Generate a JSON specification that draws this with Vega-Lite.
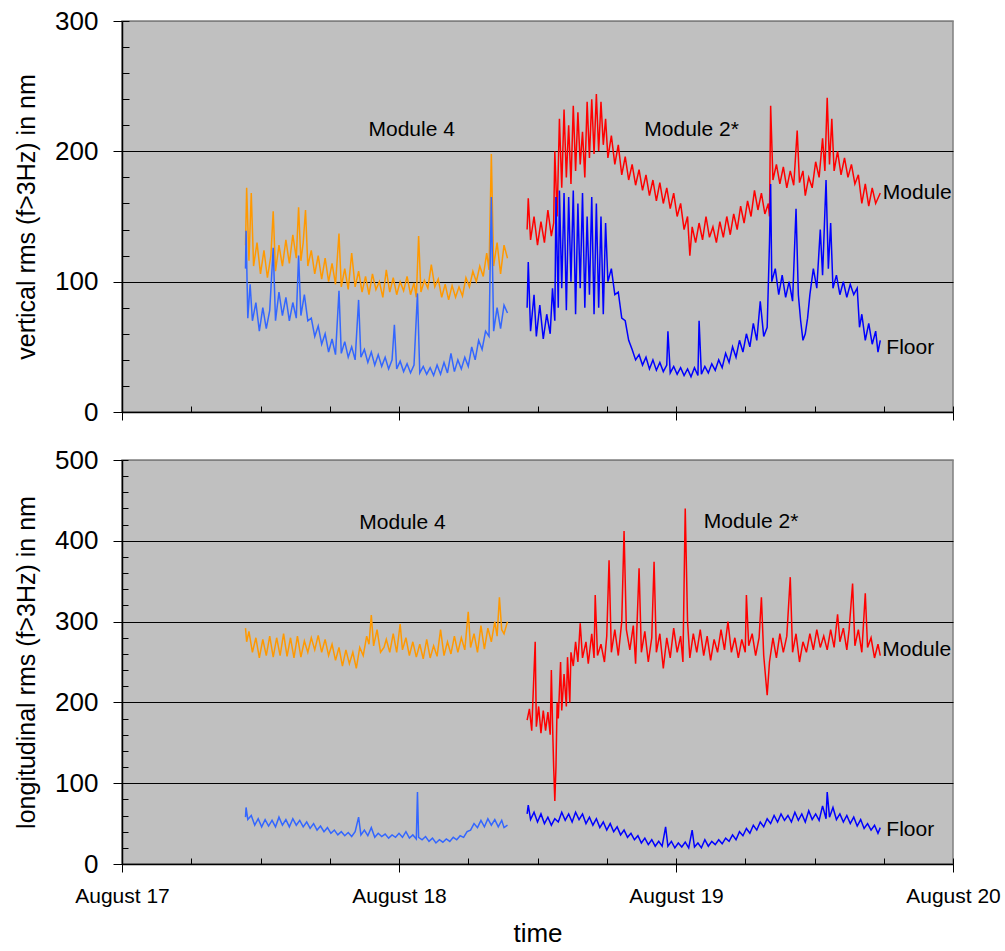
{
"$schema": "https://vega.github.io/schema/vega-lite/v6.json",
"padding": {"left": 13, "top": 7, "right": 10, "bottom": 0},
"background": "white",
"spacing": 20,
"config": {
  "font": "Liberation Sans",
  "view": {"fill": "#C0C0C0", "stroke": "#808080", "strokeWidth": 1.5},
  "axis": {"domainColor": "black", "tickColor": "black", "labelColor": "black", "titleColor": "black", "labelFont": "Liberation Sans", "titleFont": "Liberation Sans", "titleFontWeight": "normal", "gridColor": "black", "gridOpacity": 1, "gridWidth": 1}
},
"datasets": {
"vert": [
{"s":"a","h":10.7,"v":128},{"s":"a","h":10.8,"v":172},{"s":"a","h":11.0,"v":116},{"s":"a","h":11.2,"v":168},{"s":"a","h":11.4,"v":112},{"s":"a","h":11.7,"v":130},{"s":"a","h":12.0,"v":106},{"s":"a","h":12.3,"v":124},{"s":"a","h":12.6,"v":103},{"s":"a","h":12.9,"v":120},{"s":"a","h":13.1,"v":154},{"s":"a","h":13.3,"v":108},{"s":"a","h":13.6,"v":128},{"s":"a","h":13.9,"v":112},{"s":"a","h":14.2,"v":132},{"s":"a","h":14.5,"v":114},{"s":"a","h":14.8,"v":136},{"s":"a","h":15.1,"v":118},{"s":"a","h":15.3,"v":157},{"s":"a","h":15.5,"v":116},{"s":"a","h":15.7,"v":130},{"s":"a","h":15.9,"v":155},{"s":"a","h":16.1,"v":112},{"s":"a","h":16.4,"v":124},{"s":"a","h":16.7,"v":106},{"s":"a","h":17.0,"v":120},{"s":"a","h":17.3,"v":102},{"s":"a","h":17.6,"v":118},{"s":"a","h":17.9,"v":100},{"s":"a","h":18.2,"v":114},{"s":"a","h":18.5,"v":98},{"s":"a","h":18.8,"v":137},{"s":"a","h":19.0,"v":96},{"s":"a","h":19.3,"v":110},{"s":"a","h":19.6,"v":94},{"s":"a","h":19.9,"v":122},{"s":"a","h":20.2,"v":96},{"s":"a","h":20.5,"v":108},{"s":"a","h":20.8,"v":92},{"s":"a","h":21.1,"v":104},{"s":"a","h":21.4,"v":90},{"s":"a","h":21.7,"v":106},{"s":"a","h":22.0,"v":94},{"s":"a","h":22.3,"v":100},{"s":"a","h":22.6,"v":88},{"s":"a","h":22.9,"v":109},{"s":"a","h":23.2,"v":92},{"s":"a","h":23.5,"v":103},{"s":"a","h":23.8,"v":90},{"s":"a","h":24.1,"v":100},{"s":"a","h":24.4,"v":93},{"s":"a","h":24.7,"v":104},{"s":"a","h":25.0,"v":90},{"s":"a","h":25.3,"v":99},{"s":"a","h":25.5,"v":88},{"s":"a","h":25.7,"v":135},{"s":"a","h":25.9,"v":92},{"s":"a","h":26.2,"v":101},{"s":"a","h":26.5,"v":95},{"s":"a","h":26.8,"v":113},{"s":"a","h":27.1,"v":96},{"s":"a","h":27.4,"v":102},{"s":"a","h":27.7,"v":88},{"s":"a","h":28.0,"v":98},{"s":"a","h":28.3,"v":86},{"s":"a","h":28.6,"v":97},{"s":"a","h":28.9,"v":88},{"s":"a","h":29.2,"v":96},{"s":"a","h":29.5,"v":89},{"s":"a","h":29.8,"v":103},{"s":"a","h":30.1,"v":96},{"s":"a","h":30.4,"v":108},{"s":"a","h":30.7,"v":100},{"s":"a","h":31.0,"v":112},{"s":"a","h":31.3,"v":104},{"s":"a","h":31.6,"v":122},{"s":"a","h":31.8,"v":109},{"s":"a","h":32.0,"v":198},{"s":"a","h":32.2,"v":112},{"s":"a","h":32.5,"v":130},{"s":"a","h":32.8,"v":106},{"s":"a","h":33.1,"v":128},{"s":"a","h":33.4,"v":118},
{"s":"b","h":10.7,"v":110},{"s":"b","h":10.75,"v":139},{"s":"b","h":10.9,"v":72},{"s":"b","h":11.1,"v":98},{"s":"b","h":11.3,"v":70},{"s":"b","h":11.6,"v":84},{"s":"b","h":11.9,"v":62},{"s":"b","h":12.2,"v":80},{"s":"b","h":12.5,"v":64},{"s":"b","h":12.8,"v":78},{"s":"b","h":13.1,"v":126},{"s":"b","h":13.3,"v":70},{"s":"b","h":13.6,"v":92},{"s":"b","h":13.9,"v":74},{"s":"b","h":14.2,"v":88},{"s":"b","h":14.5,"v":70},{"s":"b","h":14.8,"v":84},{"s":"b","h":15.1,"v":72},{"s":"b","h":15.3,"v":120},{"s":"b","h":15.5,"v":74},{"s":"b","h":15.8,"v":90},{"s":"b","h":16.1,"v":70},{"s":"b","h":16.4,"v":72},{"s":"b","h":16.7,"v":58},{"s":"b","h":17.0,"v":66},{"s":"b","h":17.3,"v":52},{"s":"b","h":17.6,"v":60},{"s":"b","h":17.9,"v":46},{"s":"b","h":18.2,"v":56},{"s":"b","h":18.5,"v":44},{"s":"b","h":18.8,"v":93},{"s":"b","h":19.0,"v":45},{"s":"b","h":19.3,"v":54},{"s":"b","h":19.6,"v":42},{"s":"b","h":19.9,"v":50},{"s":"b","h":20.2,"v":40},{"s":"b","h":20.5,"v":86},{"s":"b","h":20.7,"v":42},{"s":"b","h":21.0,"v":48},{"s":"b","h":21.3,"v":38},{"s":"b","h":21.6,"v":46},{"s":"b","h":21.9,"v":36},{"s":"b","h":22.2,"v":44},{"s":"b","h":22.5,"v":35},{"s":"b","h":22.8,"v":42},{"s":"b","h":23.1,"v":33},{"s":"b","h":23.4,"v":40},{"s":"b","h":23.6,"v":67},{"s":"b","h":23.8,"v":33},{"s":"b","h":24.1,"v":39},{"s":"b","h":24.4,"v":31},{"s":"b","h":24.7,"v":37},{"s":"b","h":25.0,"v":30},{"s":"b","h":25.3,"v":36},{"s":"b","h":25.6,"v":91},{"s":"b","h":25.8,"v":30},{"s":"b","h":26.1,"v":35},{"s":"b","h":26.4,"v":29},{"s":"b","h":26.7,"v":34},{"s":"b","h":27.0,"v":28},{"s":"b","h":27.3,"v":36},{"s":"b","h":27.6,"v":29},{"s":"b","h":27.9,"v":38},{"s":"b","h":28.2,"v":30},{"s":"b","h":28.5,"v":45},{"s":"b","h":28.8,"v":31},{"s":"b","h":29.1,"v":40},{"s":"b","h":29.4,"v":33},{"s":"b","h":29.7,"v":42},{"s":"b","h":30.0,"v":35},{"s":"b","h":30.3,"v":50},{"s":"b","h":30.6,"v":40},{"s":"b","h":30.9,"v":55},{"s":"b","h":31.2,"v":48},{"s":"b","h":31.5,"v":62},{"s":"b","h":31.8,"v":58},{"s":"b","h":32.0,"v":165},{"s":"b","h":32.2,"v":62},{"s":"b","h":32.5,"v":80},{"s":"b","h":32.8,"v":64},{"s":"b","h":33.1,"v":82},{"s":"b","h":33.4,"v":76},
{"s":"c","h":35.1,"v":140},{"s":"c","h":35.2,"v":164},{"s":"c","h":35.4,"v":132},{"s":"c","h":35.7,"v":150},{"s":"c","h":36.0,"v":128},{"s":"c","h":36.3,"v":146},{"s":"c","h":36.6,"v":130},{"s":"c","h":36.9,"v":155},{"s":"c","h":37.2,"v":135},{"s":"c","h":37.4,"v":145},{"s":"c","h":37.5,"v":200},{"s":"c","h":37.7,"v":150},{"s":"c","h":37.9,"v":225},{"s":"c","h":38.1,"v":172},{"s":"c","h":38.3,"v":232},{"s":"c","h":38.5,"v":180},{"s":"c","h":38.7,"v":220},{"s":"c","h":38.9,"v":175},{"s":"c","h":39.1,"v":235},{"s":"c","h":39.3,"v":185},{"s":"c","h":39.5,"v":230},{"s":"c","h":39.7,"v":190},{"s":"c","h":39.9,"v":215},{"s":"c","h":40.1,"v":180},{"s":"c","h":40.3,"v":238},{"s":"c","h":40.5,"v":195},{"s":"c","h":40.7,"v":240},{"s":"c","h":40.9,"v":198},{"s":"c","h":41.1,"v":244},{"s":"c","h":41.3,"v":200},{"s":"c","h":41.5,"v":238},{"s":"c","h":41.7,"v":205},{"s":"c","h":41.9,"v":225},{"s":"c","h":42.1,"v":195},{"s":"c","h":42.4,"v":212},{"s":"c","h":42.7,"v":190},{"s":"c","h":43.0,"v":205},{"s":"c","h":43.3,"v":182},{"s":"c","h":43.6,"v":196},{"s":"c","h":43.9,"v":178},{"s":"c","h":44.2,"v":190},{"s":"c","h":44.5,"v":174},{"s":"c","h":44.8,"v":186},{"s":"c","h":45.1,"v":170},{"s":"c","h":45.4,"v":182},{"s":"c","h":45.7,"v":166},{"s":"c","h":46.0,"v":178},{"s":"c","h":46.3,"v":162},{"s":"c","h":46.6,"v":176},{"s":"c","h":46.9,"v":160},{"s":"c","h":47.2,"v":172},{"s":"c","h":47.5,"v":156},{"s":"c","h":47.8,"v":168},{"s":"c","h":48.1,"v":150},{"s":"c","h":48.4,"v":160},{"s":"c","h":48.7,"v":140},{"s":"c","h":49.0,"v":150},{"s":"c","h":49.2,"v":120},{"s":"c","h":49.4,"v":142},{"s":"c","h":49.7,"v":130},{"s":"c","h":50.0,"v":145},{"s":"c","h":50.3,"v":132},{"s":"c","h":50.6,"v":150},{"s":"c","h":50.9,"v":134},{"s":"c","h":51.2,"v":142},{"s":"c","h":51.5,"v":130},{"s":"c","h":51.8,"v":146},{"s":"c","h":52.1,"v":134},{"s":"c","h":52.4,"v":150},{"s":"c","h":52.7,"v":136},{"s":"c","h":53.0,"v":152},{"s":"c","h":53.3,"v":140},{"s":"c","h":53.6,"v":158},{"s":"c","h":53.9,"v":145},{"s":"c","h":54.2,"v":162},{"s":"c","h":54.5,"v":150},{"s":"c","h":54.8,"v":170},{"s":"c","h":55.1,"v":155},{"s":"c","h":55.4,"v":168},{"s":"c","h":55.7,"v":152},{"s":"c","h":56.0,"v":160},{"s":"c","h":56.1,"v":150},{"s":"c","h":56.2,"v":235},{"s":"c","h":56.4,"v":178},{"s":"c","h":56.7,"v":190},{"s":"c","h":57.0,"v":175},{"s":"c","h":57.3,"v":188},{"s":"c","h":57.6,"v":172},{"s":"c","h":57.9,"v":185},{"s":"c","h":58.2,"v":174},{"s":"c","h":58.5,"v":216},{"s":"c","h":58.7,"v":176},{"s":"c","h":59.0,"v":185},{"s":"c","h":59.2,"v":166},{"s":"c","h":59.5,"v":180},{"s":"c","h":59.8,"v":172},{"s":"c","h":60.1,"v":192},{"s":"c","h":60.4,"v":180},{"s":"c","h":60.7,"v":210},{"s":"c","h":60.9,"v":185},{"s":"c","h":61.1,"v":241},{"s":"c","h":61.3,"v":190},{"s":"c","h":61.5,"v":225},{"s":"c","h":61.7,"v":185},{"s":"c","h":62.0,"v":200},{"s":"c","h":62.3,"v":182},{"s":"c","h":62.6,"v":195},{"s":"c","h":62.9,"v":180},{"s":"c","h":63.2,"v":190},{"s":"c","h":63.5,"v":175},{"s":"c","h":63.8,"v":182},{"s":"c","h":64.1,"v":160},{"s":"c","h":64.4,"v":175},{"s":"c","h":64.7,"v":158},{"s":"c","h":65.0,"v":172},{"s":"c","h":65.3,"v":160},{"s":"c","h":65.7,"v":168},
{"s":"d","h":35.1,"v":80},{"s":"d","h":35.2,"v":115},{"s":"d","h":35.4,"v":62},{"s":"d","h":35.7,"v":90},{"s":"d","h":35.9,"v":58},{"s":"d","h":36.2,"v":82},{"s":"d","h":36.5,"v":56},{"s":"d","h":36.8,"v":75},{"s":"d","h":37.1,"v":60},{"s":"d","h":37.3,"v":95},{"s":"d","h":37.5,"v":70},{"s":"d","h":37.6,"v":165},{"s":"d","h":37.8,"v":80},{"s":"d","h":37.9,"v":170},{"s":"d","h":38.1,"v":95},{"s":"d","h":38.3,"v":168},{"s":"d","h":38.5,"v":78},{"s":"d","h":38.7,"v":165},{"s":"d","h":38.9,"v":100},{"s":"d","h":39.1,"v":170},{"s":"d","h":39.3,"v":75},{"s":"d","h":39.5,"v":160},{"s":"d","h":39.7,"v":95},{"s":"d","h":39.9,"v":168},{"s":"d","h":40.1,"v":80},{"s":"d","h":40.3,"v":150},{"s":"d","h":40.5,"v":90},{"s":"d","h":40.7,"v":165},{"s":"d","h":40.9,"v":75},{"s":"d","h":41.1,"v":160},{"s":"d","h":41.3,"v":80},{"s":"d","h":41.5,"v":150},{"s":"d","h":41.7,"v":75},{"s":"d","h":41.9,"v":145},{"s":"d","h":42.1,"v":100},{"s":"d","h":42.4,"v":110},{"s":"d","h":42.7,"v":90},{"s":"d","h":43.0,"v":92},{"s":"d","h":43.3,"v":72},{"s":"d","h":43.6,"v":70},{"s":"d","h":43.9,"v":55},{"s":"d","h":44.2,"v":48},{"s":"d","h":44.5,"v":40},{"s":"d","h":44.8,"v":44},{"s":"d","h":45.1,"v":36},{"s":"d","h":45.4,"v":42},{"s":"d","h":45.7,"v":33},{"s":"d","h":46.0,"v":40},{"s":"d","h":46.3,"v":32},{"s":"d","h":46.6,"v":38},{"s":"d","h":46.9,"v":31},{"s":"d","h":47.2,"v":36},{"s":"d","h":47.3,"v":62},{"s":"d","h":47.5,"v":30},{"s":"d","h":47.8,"v":35},{"s":"d","h":48.1,"v":29},{"s":"d","h":48.4,"v":34},{"s":"d","h":48.7,"v":28},{"s":"d","h":49.0,"v":33},{"s":"d","h":49.3,"v":27},{"s":"d","h":49.6,"v":34},{"s":"d","h":49.9,"v":28},{"s":"d","h":50.0,"v":70},{"s":"d","h":50.2,"v":29},{"s":"d","h":50.5,"v":35},{"s":"d","h":50.8,"v":30},{"s":"d","h":51.1,"v":37},{"s":"d","h":51.4,"v":32},{"s":"d","h":51.7,"v":40},{"s":"d","h":52.0,"v":34},{"s":"d","h":52.3,"v":45},{"s":"d","h":52.6,"v":38},{"s":"d","h":52.9,"v":50},{"s":"d","h":53.2,"v":42},{"s":"d","h":53.5,"v":55},{"s":"d","h":53.8,"v":46},{"s":"d","h":54.1,"v":60},{"s":"d","h":54.4,"v":50},{"s":"d","h":54.7,"v":68},{"s":"d","h":55.0,"v":55},{"s":"d","h":55.3,"v":85},{"s":"d","h":55.6,"v":58},{"s":"d","h":55.9,"v":65},{"s":"d","h":56.1,"v":130},{"s":"d","h":56.2,"v":175},{"s":"d","h":56.3,"v":100},{"s":"d","h":56.6,"v":110},{"s":"d","h":56.9,"v":90},{"s":"d","h":57.2,"v":105},{"s":"d","h":57.5,"v":88},{"s":"d","h":57.8,"v":100},{"s":"d","h":58.1,"v":85},{"s":"d","h":58.4,"v":156},{"s":"d","h":58.6,"v":90},{"s":"d","h":58.8,"v":70},{"s":"d","h":59.0,"v":55},{"s":"d","h":59.2,"v":60},{"s":"d","h":59.4,"v":72},{"s":"d","h":59.6,"v":90},{"s":"d","h":59.9,"v":110},{"s":"d","h":60.2,"v":95},{"s":"d","h":60.5,"v":140},{"s":"d","h":60.7,"v":105},{"s":"d","h":61.0,"v":178},{"s":"d","h":61.2,"v":110},{"s":"d","h":61.4,"v":145},{"s":"d","h":61.6,"v":95},{"s":"d","h":61.9,"v":105},{"s":"d","h":62.2,"v":90},{"s":"d","h":62.5,"v":100},{"s":"d","h":62.8,"v":88},{"s":"d","h":63.1,"v":98},{"s":"d","h":63.4,"v":90},{"s":"d","h":63.7,"v":95},{"s":"d","h":63.9,"v":65},{"s":"d","h":64.1,"v":75},{"s":"d","h":64.4,"v":55},{"s":"d","h":64.7,"v":68},{"s":"d","h":65.0,"v":52},{"s":"d","h":65.3,"v":62},{"s":"d","h":65.5,"v":46},{"s":"d","h":65.7,"v":55}
],
"long": [
{"s":"a","h":10.7,"v":292},{"s":"a","h":10.8,"v":275},{"s":"a","h":11.0,"v":288},{"s":"a","h":11.3,"v":262},{"s":"a","h":11.6,"v":280},{"s":"a","h":11.9,"v":255},{"s":"a","h":12.2,"v":278},{"s":"a","h":12.5,"v":258},{"s":"a","h":12.8,"v":282},{"s":"a","h":13.1,"v":256},{"s":"a","h":13.4,"v":280},{"s":"a","h":13.7,"v":258},{"s":"a","h":14.0,"v":285},{"s":"a","h":14.3,"v":257},{"s":"a","h":14.6,"v":280},{"s":"a","h":14.9,"v":255},{"s":"a","h":15.2,"v":282},{"s":"a","h":15.5,"v":256},{"s":"a","h":15.8,"v":276},{"s":"a","h":16.1,"v":262},{"s":"a","h":16.4,"v":280},{"s":"a","h":16.7,"v":265},{"s":"a","h":17.0,"v":283},{"s":"a","h":17.3,"v":262},{"s":"a","h":17.6,"v":278},{"s":"a","h":17.9,"v":258},{"s":"a","h":18.2,"v":272},{"s":"a","h":18.5,"v":252},{"s":"a","h":18.8,"v":268},{"s":"a","h":19.1,"v":245},{"s":"a","h":19.4,"v":265},{"s":"a","h":19.7,"v":248},{"s":"a","h":20.0,"v":262},{"s":"a","h":20.3,"v":242},{"s":"a","h":20.6,"v":268},{"s":"a","h":20.9,"v":258},{"s":"a","h":21.2,"v":282},{"s":"a","h":21.4,"v":272},{"s":"a","h":21.6,"v":308},{"s":"a","h":21.8,"v":270},{"s":"a","h":22.1,"v":290},{"s":"a","h":22.4,"v":262},{"s":"a","h":22.7,"v":268},{"s":"a","h":22.9,"v":278},{"s":"a","h":23.2,"v":262},{"s":"a","h":23.5,"v":285},{"s":"a","h":23.8,"v":262},{"s":"a","h":24.1,"v":297},{"s":"a","h":24.3,"v":265},{"s":"a","h":24.6,"v":280},{"s":"a","h":24.9,"v":258},{"s":"a","h":25.2,"v":275},{"s":"a","h":25.5,"v":256},{"s":"a","h":25.8,"v":272},{"s":"a","h":26.1,"v":254},{"s":"a","h":26.4,"v":278},{"s":"a","h":26.7,"v":255},{"s":"a","h":27.0,"v":270},{"s":"a","h":27.3,"v":257},{"s":"a","h":27.6,"v":290},{"s":"a","h":27.9,"v":258},{"s":"a","h":28.2,"v":275},{"s":"a","h":28.5,"v":260},{"s":"a","h":28.8,"v":282},{"s":"a","h":29.1,"v":262},{"s":"a","h":29.4,"v":280},{"s":"a","h":29.7,"v":265},{"s":"a","h":30.0,"v":312},{"s":"a","h":30.2,"v":268},{"s":"a","h":30.5,"v":285},{"s":"a","h":30.8,"v":262},{"s":"a","h":31.1,"v":295},{"s":"a","h":31.4,"v":266},{"s":"a","h":31.7,"v":292},{"s":"a","h":32.0,"v":275},{"s":"a","h":32.3,"v":300},{"s":"a","h":32.5,"v":282},{"s":"a","h":32.7,"v":330},{"s":"a","h":32.9,"v":290},{"s":"a","h":33.1,"v":285},{"s":"a","h":33.4,"v":300},
{"s":"b","h":10.7,"v":58},{"s":"b","h":10.75,"v":70},{"s":"b","h":10.9,"v":55},{"s":"b","h":11.2,"v":60},{"s":"b","h":11.5,"v":48},{"s":"b","h":11.8,"v":56},{"s":"b","h":12.1,"v":46},{"s":"b","h":12.4,"v":55},{"s":"b","h":12.7,"v":47},{"s":"b","h":13.0,"v":54},{"s":"b","h":13.3,"v":46},{"s":"b","h":13.6,"v":58},{"s":"b","h":13.9,"v":48},{"s":"b","h":14.2,"v":55},{"s":"b","h":14.5,"v":46},{"s":"b","h":14.8,"v":56},{"s":"b","h":15.1,"v":48},{"s":"b","h":15.4,"v":54},{"s":"b","h":15.7,"v":46},{"s":"b","h":16.0,"v":52},{"s":"b","h":16.3,"v":44},{"s":"b","h":16.6,"v":50},{"s":"b","h":16.9,"v":42},{"s":"b","h":17.2,"v":47},{"s":"b","h":17.5,"v":40},{"s":"b","h":17.8,"v":45},{"s":"b","h":18.1,"v":38},{"s":"b","h":18.4,"v":42},{"s":"b","h":18.7,"v":36},{"s":"b","h":19.0,"v":40},{"s":"b","h":19.3,"v":35},{"s":"b","h":19.6,"v":39},{"s":"b","h":19.9,"v":34},{"s":"b","h":20.2,"v":40},{"s":"b","h":20.5,"v":58},{"s":"b","h":20.7,"v":36},{"s":"b","h":21.0,"v":42},{"s":"b","h":21.3,"v":35},{"s":"b","h":21.6,"v":45},{"s":"b","h":21.9,"v":33},{"s":"b","h":22.2,"v":38},{"s":"b","h":22.5,"v":34},{"s":"b","h":22.8,"v":37},{"s":"b","h":23.1,"v":32},{"s":"b","h":23.4,"v":36},{"s":"b","h":23.7,"v":33},{"s":"b","h":24.0,"v":38},{"s":"b","h":24.3,"v":33},{"s":"b","h":24.6,"v":40},{"s":"b","h":24.9,"v":32},{"s":"b","h":25.2,"v":36},{"s":"b","h":25.5,"v":31},{"s":"b","h":25.6,"v":89},{"s":"b","h":25.7,"v":33},{"s":"b","h":26.0,"v":30},{"s":"b","h":26.3,"v":34},{"s":"b","h":26.6,"v":28},{"s":"b","h":26.9,"v":32},{"s":"b","h":27.2,"v":26},{"s":"b","h":27.5,"v":30},{"s":"b","h":27.8,"v":27},{"s":"b","h":28.1,"v":31},{"s":"b","h":28.4,"v":28},{"s":"b","h":28.7,"v":33},{"s":"b","h":29.0,"v":30},{"s":"b","h":29.3,"v":35},{"s":"b","h":29.6,"v":33},{"s":"b","h":29.9,"v":40},{"s":"b","h":30.2,"v":42},{"s":"b","h":30.5,"v":50},{"s":"b","h":30.8,"v":45},{"s":"b","h":31.1,"v":54},{"s":"b","h":31.4,"v":46},{"s":"b","h":31.7,"v":56},{"s":"b","h":32.0,"v":48},{"s":"b","h":32.3,"v":55},{"s":"b","h":32.6,"v":46},{"s":"b","h":32.9,"v":54},{"s":"b","h":33.1,"v":45},{"s":"b","h":33.4,"v":48},
{"s":"c","h":35.1,"v":178},{"s":"c","h":35.3,"v":192},{"s":"c","h":35.5,"v":165},{"s":"c","h":35.8,"v":275},{"s":"c","h":35.9,"v":170},{"s":"c","h":36.1,"v":195},{"s":"c","h":36.3,"v":162},{"s":"c","h":36.5,"v":190},{"s":"c","h":36.7,"v":165},{"s":"c","h":36.9,"v":188},{"s":"c","h":37.1,"v":160},{"s":"c","h":37.2,"v":240},{"s":"c","h":37.3,"v":175},{"s":"c","h":37.4,"v":120},{"s":"c","h":37.5,"v":78},{"s":"c","h":37.6,"v":120},{"s":"c","h":37.7,"v":200},{"s":"c","h":37.8,"v":180},{"s":"c","h":38.0,"v":250},{"s":"c","h":38.1,"v":190},{"s":"c","h":38.3,"v":235},{"s":"c","h":38.5,"v":195},{"s":"c","h":38.6,"v":256},{"s":"c","h":38.8,"v":200},{"s":"c","h":38.9,"v":262},{"s":"c","h":39.1,"v":245},{"s":"c","h":39.3,"v":275},{"s":"c","h":39.5,"v":250},{"s":"c","h":39.7,"v":298},{"s":"c","h":39.9,"v":255},{"s":"c","h":40.2,"v":275},{"s":"c","h":40.4,"v":248},{"s":"c","h":40.7,"v":285},{"s":"c","h":40.9,"v":255},{"s":"c","h":41.0,"v":333},{"s":"c","h":41.2,"v":258},{"s":"c","h":41.5,"v":272},{"s":"c","h":41.8,"v":250},{"s":"c","h":42.0,"v":282},{"s":"c","h":42.2,"v":376},{"s":"c","h":42.4,"v":262},{"s":"c","h":42.7,"v":290},{"s":"c","h":43.0,"v":258},{"s":"c","h":43.3,"v":300},{"s":"c","h":43.5,"v":412},{"s":"c","h":43.7,"v":290},{"s":"c","h":44.0,"v":265},{"s":"c","h":44.3,"v":295},{"s":"c","h":44.5,"v":248},{"s":"c","h":44.8,"v":366},{"s":"c","h":45.0,"v":262},{"s":"c","h":45.3,"v":288},{"s":"c","h":45.6,"v":250},{"s":"c","h":45.9,"v":280},{"s":"c","h":46.1,"v":374},{"s":"c","h":46.3,"v":262},{"s":"c","h":46.6,"v":285},{"s":"c","h":46.9,"v":242},{"s":"c","h":47.2,"v":280},{"s":"c","h":47.5,"v":255},{"s":"c","h":47.8,"v":292},{"s":"c","h":48.1,"v":262},{"s":"c","h":48.4,"v":282},{"s":"c","h":48.6,"v":250},{"s":"c","h":48.8,"v":440},{"s":"c","h":49.0,"v":300},{"s":"c","h":49.2,"v":255},{"s":"c","h":49.5,"v":285},{"s":"c","h":49.8,"v":262},{"s":"c","h":50.1,"v":290},{"s":"c","h":50.4,"v":258},{"s":"c","h":50.7,"v":282},{"s":"c","h":51.0,"v":252},{"s":"c","h":51.3,"v":278},{"s":"c","h":51.6,"v":262},{"s":"c","h":51.9,"v":290},{"s":"c","h":52.2,"v":265},{"s":"c","h":52.5,"v":300},{"s":"c","h":52.8,"v":262},{"s":"c","h":53.1,"v":280},{"s":"c","h":53.4,"v":255},{"s":"c","h":53.7,"v":278},{"s":"c","h":54.0,"v":262},{"s":"c","h":54.1,"v":333},{"s":"c","h":54.3,"v":270},{"s":"c","h":54.6,"v":285},{"s":"c","h":54.9,"v":258},{"s":"c","h":55.2,"v":280},{"s":"c","h":55.4,"v":330},{"s":"c","h":55.6,"v":258},{"s":"c","h":55.8,"v":225},{"s":"c","h":55.9,"v":209},{"s":"c","h":56.1,"v":250},{"s":"c","h":56.4,"v":280},{"s":"c","h":56.7,"v":255},{"s":"c","h":57.0,"v":285},{"s":"c","h":57.3,"v":262},{"s":"c","h":57.6,"v":282},{"s":"c","h":57.9,"v":355},{"s":"c","h":58.1,"v":262},{"s":"c","h":58.4,"v":285},{"s":"c","h":58.7,"v":250},{"s":"c","h":59.0,"v":275},{"s":"c","h":59.3,"v":262},{"s":"c","h":59.6,"v":285},{"s":"c","h":59.9,"v":265},{"s":"c","h":60.2,"v":290},{"s":"c","h":60.5,"v":268},{"s":"c","h":60.8,"v":282},{"s":"c","h":61.1,"v":265},{"s":"c","h":61.4,"v":290},{"s":"c","h":61.7,"v":268},{"s":"c","h":62.0,"v":309},{"s":"c","h":62.2,"v":275},{"s":"c","h":62.5,"v":292},{"s":"c","h":62.8,"v":265},{"s":"c","h":63.0,"v":290},{"s":"c","h":63.3,"v":347},{"s":"c","h":63.5,"v":270},{"s":"c","h":63.8,"v":290},{"s":"c","h":64.1,"v":262},{"s":"c","h":64.4,"v":335},{"s":"c","h":64.6,"v":268},{"s":"c","h":64.9,"v":280},{"s":"c","h":65.2,"v":255},{"s":"c","h":65.5,"v":272},{"s":"c","h":65.7,"v":258},
{"s":"d","h":35.1,"v":62},{"s":"d","h":35.2,"v":73},{"s":"d","h":35.4,"v":55},{"s":"d","h":35.7,"v":64},{"s":"d","h":36.0,"v":52},{"s":"d","h":36.3,"v":62},{"s":"d","h":36.6,"v":50},{"s":"d","h":36.9,"v":58},{"s":"d","h":37.2,"v":48},{"s":"d","h":37.5,"v":56},{"s":"d","h":37.8,"v":52},{"s":"d","h":38.1,"v":64},{"s":"d","h":38.4,"v":54},{"s":"d","h":38.7,"v":62},{"s":"d","h":39.0,"v":52},{"s":"d","h":39.3,"v":64},{"s":"d","h":39.6,"v":55},{"s":"d","h":39.9,"v":62},{"s":"d","h":40.2,"v":50},{"s":"d","h":40.5,"v":58},{"s":"d","h":40.8,"v":48},{"s":"d","h":41.1,"v":56},{"s":"d","h":41.4,"v":45},{"s":"d","h":41.7,"v":52},{"s":"d","h":42.0,"v":42},{"s":"d","h":42.3,"v":50},{"s":"d","h":42.6,"v":40},{"s":"d","h":42.9,"v":46},{"s":"d","h":43.2,"v":36},{"s":"d","h":43.5,"v":42},{"s":"d","h":43.8,"v":33},{"s":"d","h":44.1,"v":38},{"s":"d","h":44.4,"v":30},{"s":"d","h":44.7,"v":35},{"s":"d","h":45.0,"v":26},{"s":"d","h":45.3,"v":32},{"s":"d","h":45.6,"v":24},{"s":"d","h":45.9,"v":30},{"s":"d","h":46.2,"v":22},{"s":"d","h":46.5,"v":28},{"s":"d","h":46.8,"v":22},{"s":"d","h":47.1,"v":46},{"s":"d","h":47.3,"v":22},{"s":"d","h":47.6,"v":28},{"s":"d","h":47.9,"v":20},{"s":"d","h":48.2,"v":26},{"s":"d","h":48.5,"v":21},{"s":"d","h":48.8,"v":27},{"s":"d","h":49.1,"v":20},{"s":"d","h":49.4,"v":42},{"s":"d","h":49.6,"v":21},{"s":"d","h":49.9,"v":26},{"s":"d","h":50.2,"v":20},{"s":"d","h":50.5,"v":30},{"s":"d","h":50.8,"v":22},{"s":"d","h":51.1,"v":28},{"s":"d","h":51.4,"v":24},{"s":"d","h":51.7,"v":30},{"s":"d","h":52.0,"v":25},{"s":"d","h":52.3,"v":32},{"s":"d","h":52.6,"v":28},{"s":"d","h":52.9,"v":36},{"s":"d","h":53.2,"v":30},{"s":"d","h":53.5,"v":40},{"s":"d","h":53.8,"v":35},{"s":"d","h":54.1,"v":44},{"s":"d","h":54.4,"v":38},{"s":"d","h":54.7,"v":48},{"s":"d","h":55.0,"v":42},{"s":"d","h":55.3,"v":52},{"s":"d","h":55.6,"v":46},{"s":"d","h":55.9,"v":56},{"s":"d","h":56.2,"v":50},{"s":"d","h":56.5,"v":60},{"s":"d","h":56.8,"v":52},{"s":"d","h":57.1,"v":62},{"s":"d","h":57.4,"v":54},{"s":"d","h":57.7,"v":60},{"s":"d","h":58.0,"v":52},{"s":"d","h":58.3,"v":64},{"s":"d","h":58.6,"v":54},{"s":"d","h":58.9,"v":62},{"s":"d","h":59.2,"v":52},{"s":"d","h":59.5,"v":66},{"s":"d","h":59.8,"v":55},{"s":"d","h":60.1,"v":62},{"s":"d","h":60.4,"v":54},{"s":"d","h":60.7,"v":72},{"s":"d","h":61.0,"v":56},{"s":"d","h":61.1,"v":89},{"s":"d","h":61.3,"v":58},{"s":"d","h":61.6,"v":70},{"s":"d","h":61.9,"v":55},{"s":"d","h":62.2,"v":62},{"s":"d","h":62.5,"v":52},{"s":"d","h":62.8,"v":60},{"s":"d","h":63.1,"v":50},{"s":"d","h":63.4,"v":58},{"s":"d","h":63.7,"v":47},{"s":"d","h":64.0,"v":55},{"s":"d","h":64.3,"v":44},{"s":"d","h":64.6,"v":50},{"s":"d","h":64.9,"v":42},{"s":"d","h":65.2,"v":48},{"s":"d","h":65.5,"v":38},{"s":"d","h":65.7,"v":45}
],
"vt": [
{"h":25.1,"v":216,"t":"Module 4"},{"h":49.35,"v":216,"t":"Module 2*"},{"h":68.9,"v":168,"t":"Module"},{"h":68.3,"v":49,"t":"Floor"}
],
"lt": [
{"h":24.3,"v":422,"t":"Module 4"},{"h":54.5,"v":423,"t":"Module 2*"},{"h":68.85,"v":265,"t":"Module"},{"h":68.3,"v":42,"t":"Floor"}
]
},
"vconcat": [
{
 "width": 831, "height": 391,
 "layer": [
  {"data": {"name": "vert"}, "mark": {"type": "line", "strokeWidth": 1.5},
   "encoding": {
    "x": {"field": "h", "type": "quantitative", "scale": {"domain": [0, 72], "nice": false, "zero": false},
          "axis": {"values": [0, 24, 48, 72], "labels": false, "title": null, "tickSize": 8, "grid": false, "domainWidth": 1.5}},
    "y": {"field": "v", "type": "quantitative", "scale": {"domain": [0, 300], "nice": false},
          "axis": {"values": [0, 100, 200, 300], "tickSize": 9, "labelFontSize": 26, "labelPadding": 15, "title": "vertical rms (f>3Hz) in nm", "titleFontSize": 25, "titlePadding": 15, "grid": true, "gridColor": {"condition": {"test": "datum.value === 300", "value": "#808080"}, "value": "black"}, "domainWidth": 1.5}},
    "color": {"field": "s", "type": "nominal", "scale": {"domain": ["a", "b", "c", "d"], "range": ["#FF9900", "#3366FF", "#FF0000", "#0000FF"]}, "legend": null}
   }},
  {"data": {"name": "vt"}, "mark": {"type": "text", "fontSize": 21, "font": "Liberation Sans", "color": "black"},
   "encoding": {
    "x": {"field": "h", "type": "quantitative", "scale": {"domain": [0, 72], "nice": false, "zero": false},
          "axis": {"orient": "top", "offset": -391, "values": [0, 6, 12, 18, 24, 30, 36, 42, 48, 54, 60, 66, 72], "labels": false, "domain": false, "grid": false, "tickSize": 6, "title": null}},
    "y": {"field": "v", "type": "quantitative", "scale": {"domain": [0, 300], "nice": false},
          "axis": {"orient": "right", "offset": -831, "values": [0, 20, 40, 60, 80, 100, 120, 140, 160, 180, 200, 220, 240, 260, 280, 300], "labels": false, "domain": false, "grid": false, "tickSize": 7, "title": null}},
    "text": {"field": "t", "type": "nominal"}
   }}
 ],
 "resolve": {"axis": {"x": "independent", "y": "independent"}}
},
{
 "width": 831, "height": 404,
 "layer": [
  {"data": {"name": "long"}, "mark": {"type": "line", "strokeWidth": 1.5},
   "encoding": {
    "x": {"field": "h", "type": "quantitative", "scale": {"domain": [0, 72], "nice": false, "zero": false},
          "axis": {"values": [0, 24, 48, 72], "labelExpr": "'August ' + (17 + datum.value / 24)", "labelFontSize": 21, "labelPadding": 13, "labelFlush": false, "title": "time", "titleFontSize": 26, "titlePadding": 14, "tickSize": 8, "grid": false, "domainWidth": 1.5}},
    "y": {"field": "v", "type": "quantitative", "scale": {"domain": [0, 500], "nice": false},
          "axis": {"values": [0, 100, 200, 300, 400, 500], "tickSize": 9, "labelFontSize": 26, "labelPadding": 15, "title": "longitudinal rms (f>3Hz) in nm", "titleFontSize": 25, "titlePadding": 15, "grid": true, "gridColor": {"condition": {"test": "datum.value === 500", "value": "#808080"}, "value": "black"}, "domainWidth": 1.5}},
    "color": {"field": "s", "type": "nominal", "scale": {"domain": ["a", "b", "c", "d"], "range": ["#FF9900", "#3366FF", "#FF0000", "#0000FF"]}, "legend": null}
   }},
  {"data": {"name": "lt"}, "mark": {"type": "text", "fontSize": 21, "font": "Liberation Sans", "color": "black"},
   "encoding": {
    "x": {"field": "h", "type": "quantitative", "scale": {"domain": [0, 72], "nice": false, "zero": false},
          "axis": {"orient": "top", "offset": -404, "values": [0, 6, 12, 18, 24, 30, 36, 42, 48, 54, 60, 66, 72], "labels": false, "domain": false, "grid": false, "tickSize": 6, "title": null}},
    "y": {"field": "v", "type": "quantitative", "scale": {"domain": [0, 500], "nice": false},
          "axis": {"orient": "right", "offset": -831, "values": [0, 20, 40, 60, 80, 100, 120, 140, 160, 180, 200, 220, 240, 260, 280, 300, 320, 340, 360, 380, 400, 420, 440, 460, 480, 500], "labels": false, "domain": false, "grid": false, "tickSize": 6, "title": null}},
    "text": {"field": "t", "type": "nominal"}
   }}
 ],
 "resolve": {"axis": {"x": "independent", "y": "independent"}}
}
]
}
